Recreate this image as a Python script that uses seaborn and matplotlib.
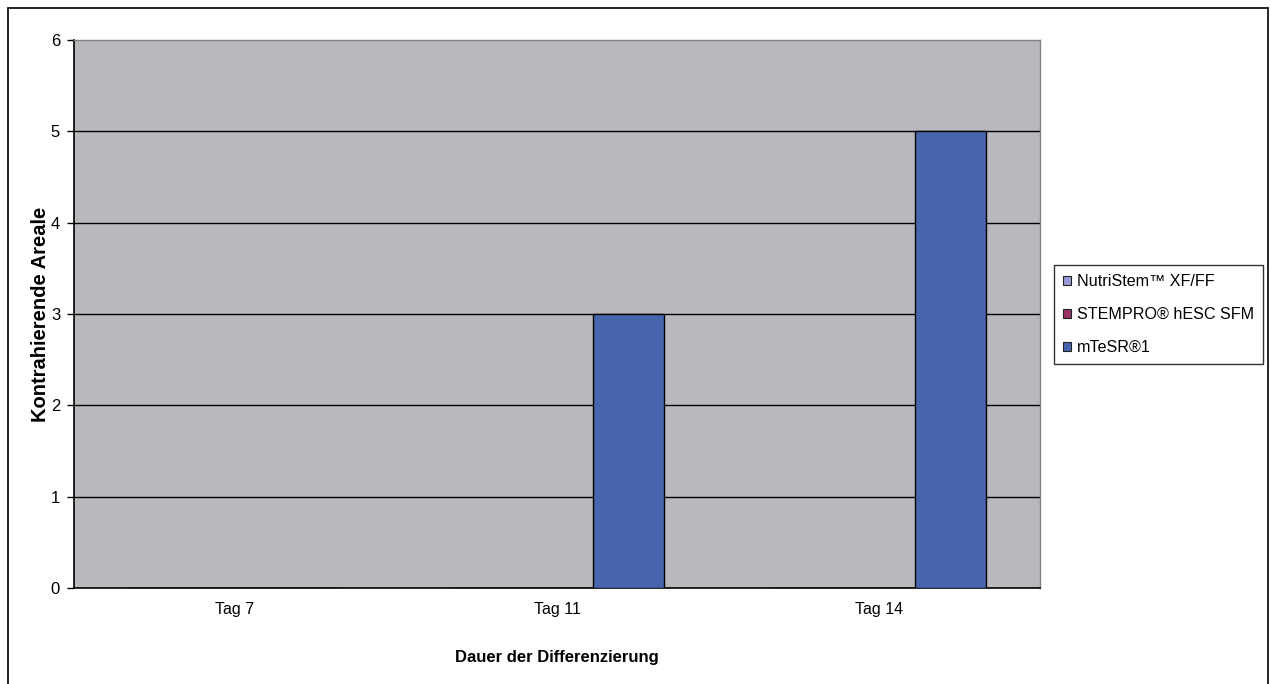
import matplotlib
matplotlib.use("Agg")
import matplotlib.pyplot as plt
from matplotlib.patches import Patch
from matplotlib.lines import Line2D
import numpy as np
import pandas as pd
import seaborn as sns

# Data
categories = ["Tag 7", "Tag 11", "Tag 14"]
series_names = ["NutriStem\u2122 XF/FF", "STEMPRO\u00ae hESC SFM", "mTeSR\u00ae1"]
nutristem = [0, 0, 0]
stempro = [0, 0, 0]
mtesr = [0, 3, 5]
series_colors = ["#9999d6", "#993366", "#4665ad"]
y_ticks = [0, 1, 2, 3, 4, 5, 6]

df = pd.DataFrame({
    "Tag": categories * 3,
    "Medium": [series_names[0]] * 3 + [series_names[1]] * 3 + [series_names[2]] * 3,
    "Wert": nutristem + stempro + mtesr,
})

sns.set_style("white")
plt.rcParams["font.family"] = ["Liberation Sans", "DejaVu Sans"]
plt.rcParams["text.color"] = "black"
plt.rcParams["axes.labelcolor"] = "black"
plt.rcParams["xtick.color"] = "black"
plt.rcParams["ytick.color"] = "black"

W, H = 1271, 684
fig = plt.figure(figsize=(W / 100, H / 100), dpi=100)
ax = fig.add_axes([74 / W, (H - 588) / H, (1040 - 74) / W, (588 - 40) / H])
ax.set_facecolor("#b8b9bd")

sns.barplot(data=df, x="Tag", y="Wert", hue="Medium", order=categories,
            hue_order=series_names, palette=series_colors, width=0.665,
            edgecolor="black", linewidth=1.0, saturation=1, ax=ax, legend=False,
            zorder=3)

ax.set_xlim(-0.5, 2.5)
ax.set_ylim(0, 6)
ax.set_yticks(y_ticks)
ax.set_yticklabels([str(t) for t in y_ticks], fontsize=12)
for t in y_ticks[1:-1]:
    ax.axhline(t, color="black", linewidth=1.0, zorder=1)

# category labels centred, tick marks on the category boundaries
ax.set_xticks(range(len(categories)))
ax.set_xticklabels(categories, fontsize=11.5)
ax.set_xticks(np.arange(-0.5, len(categories)), minor=True)
ax.tick_params(axis="x", which="major", length=0, pad=10)
ax.tick_params(axis="x", which="minor", length=5, width=1, color="black", direction="out")
ax.tick_params(axis="y", length=5, width=1, color="black", direction="out", pad=5, left=True)

for side in ["left", "bottom"]:
    ax.spines[side].set_color("black")
    ax.spines[side].set_linewidth(1.2)
for side in ["top", "right"]:
    ax.spines[side].set_color("#808080")
    ax.spines[side].set_linewidth(1.0)

ax.set_xlabel("Dauer der Differenzierung", fontsize=12, fontweight="bold", labelpad=24)
ax.set_ylabel("Kontrahierende Areale", fontsize=14.5, fontweight="bold", labelpad=0.5)

handles = [Patch(facecolor=c, edgecolor="#222222", linewidth=0.8) for c in series_colors]
leg = fig.legend(handles, series_names, loc="upper left",
                 bbox_to_anchor=(1054 / W, 1 - 265 / H), fontsize=11.6,
                 frameon=True, fancybox=False, handlelength=0.5, handleheight=0.5,
                 handletextpad=0.35, labelspacing=1.12, borderpad=0.55, borderaxespad=0)
leg.get_frame().set_edgecolor("black")
leg.get_frame().set_linewidth(1.0)

# outer chart border
for xs, ys in [([8, 8], [8, H + 5]), ([8, 1268], [8, 8]), ([1268, 1268], [8, H + 5])]:
    fig.add_artist(Line2D([x / W for x in xs], [1 - y / H for y in ys],
                          color="black", linewidth=1.2, transform=fig.transFigure))

fig.savefig("out.png", dpi=100, facecolor="white")
